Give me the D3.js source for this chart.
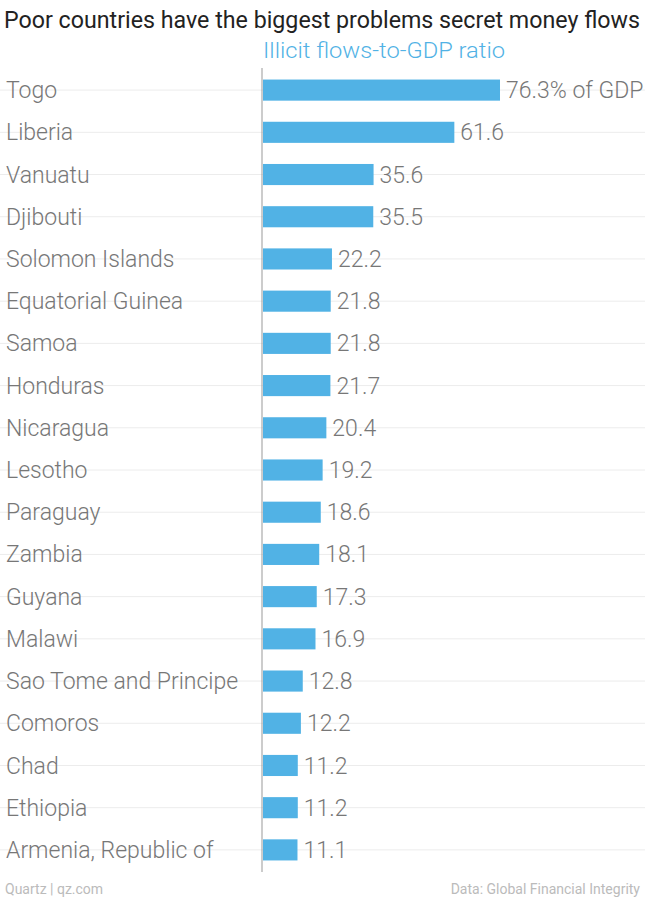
<!DOCTYPE html>
<html><head><meta charset="utf-8">
<script src="https://cdn.jsdelivr.net/npm/d3@7"></script>
<style>body{margin:0;background:#fff}</style>
</head><body>
<svg width="645" height="898"></svg>
<script>
const countries = ["Togo","Liberia","Vanuatu","Djibouti","Solomon Islands","Equatorial Guinea","Samoa","Honduras","Nicaragua","Lesotho","Paraguay","Zambia","Guyana","Malawi","Sao Tome and Principe","Comoros","Chad","Ethiopia","Armenia, Republic of"];
const ratios = [76.3,61.6,35.6,35.5,22.2,21.8,21.8,21.7,20.4,19.2,18.6,18.1,17.3,16.9,12.8,12.2,11.2,11.2,11.1];

const svg = d3.select("svg");
const font = "Roboto, 'Open Sans', sans-serif";
const x0 = 263;
const x = d3.scaleLinear().domain([0, 76.3]).range([x0, 500]);
const y = d3.scaleBand().domain(countries).range([69, 871]).paddingInner(0.5).paddingOuter(0.25);

svg.append("text").attr("x", 4).attr("y", 28).attr("font-family", font)
    .attr("font-size", 23.2).attr("fill", "#222")
    .attr("textLength", 636).attr("lengthAdjust", "spacingAndGlyphs")
    .text("Poor countries have the biggest problems secret money flows");
svg.append("text").attr("x", x0).attr("y", 58).attr("font-family", font)
    .attr("font-size", 22).attr("fill", "#51b2e5").attr("font-weight", 300)
    .attr("textLength", 242).attr("lengthAdjust", "spacingAndGlyphs")
    .text("Illicit flows-to-GDP ratio");

const row = svg.append("g").selectAll("g").data(countries).enter().append("g");
row.append("line")
    .attr("x1", 0).attr("x2", 645)
    .attr("y1", d => y(d) + y.bandwidth() / 2).attr("y2", d => y(d) + y.bandwidth() / 2)
    .attr("stroke", "#ececec");
row.append("text").attr("x", 6).attr("y", d => y(d) + y.bandwidth() / 2)
    .attr("dy", "0.35em").attr("font-family", font).attr("font-size", 23)
    .attr("font-weight", 300).attr("fill", "#777").text(d => d);
row.append("rect").attr("x", x0).attr("y", d => y(d))
    .attr("width", (d, i) => x(ratios[i]) - x0).attr("height", y.bandwidth())
    .attr("fill", "#51b2e5");
row.append("text").attr("x", (d, i) => x(ratios[i]) + 6)
    .attr("y", d => y(d) + y.bandwidth() / 2).attr("dy", "0.35em")
    .attr("font-family", font).attr("font-size", 23).attr("font-weight", 300).attr("fill", "#777")
    .text((d, i) => i === 0 ? ratios[i] + "% of GDP" : ratios[i]);

svg.append("line").attr("x1", x0 - 1).attr("x2", x0 - 1).attr("y1", 68).attr("y2", 872)
    .attr("stroke", "#999");

svg.append("text").attr("x", 5).attr("y", 894).attr("font-family", font)
    .attr("font-size", 14).attr("fill", "#bbb").text("Quartz | qz.com");
svg.append("text").attr("x", 640).attr("y", 894).attr("text-anchor", "end").attr("font-family", font)
    .attr("font-size", 14).attr("fill", "#bbb").text("Data: Global Financial Integrity");
</script>
</body></html>
